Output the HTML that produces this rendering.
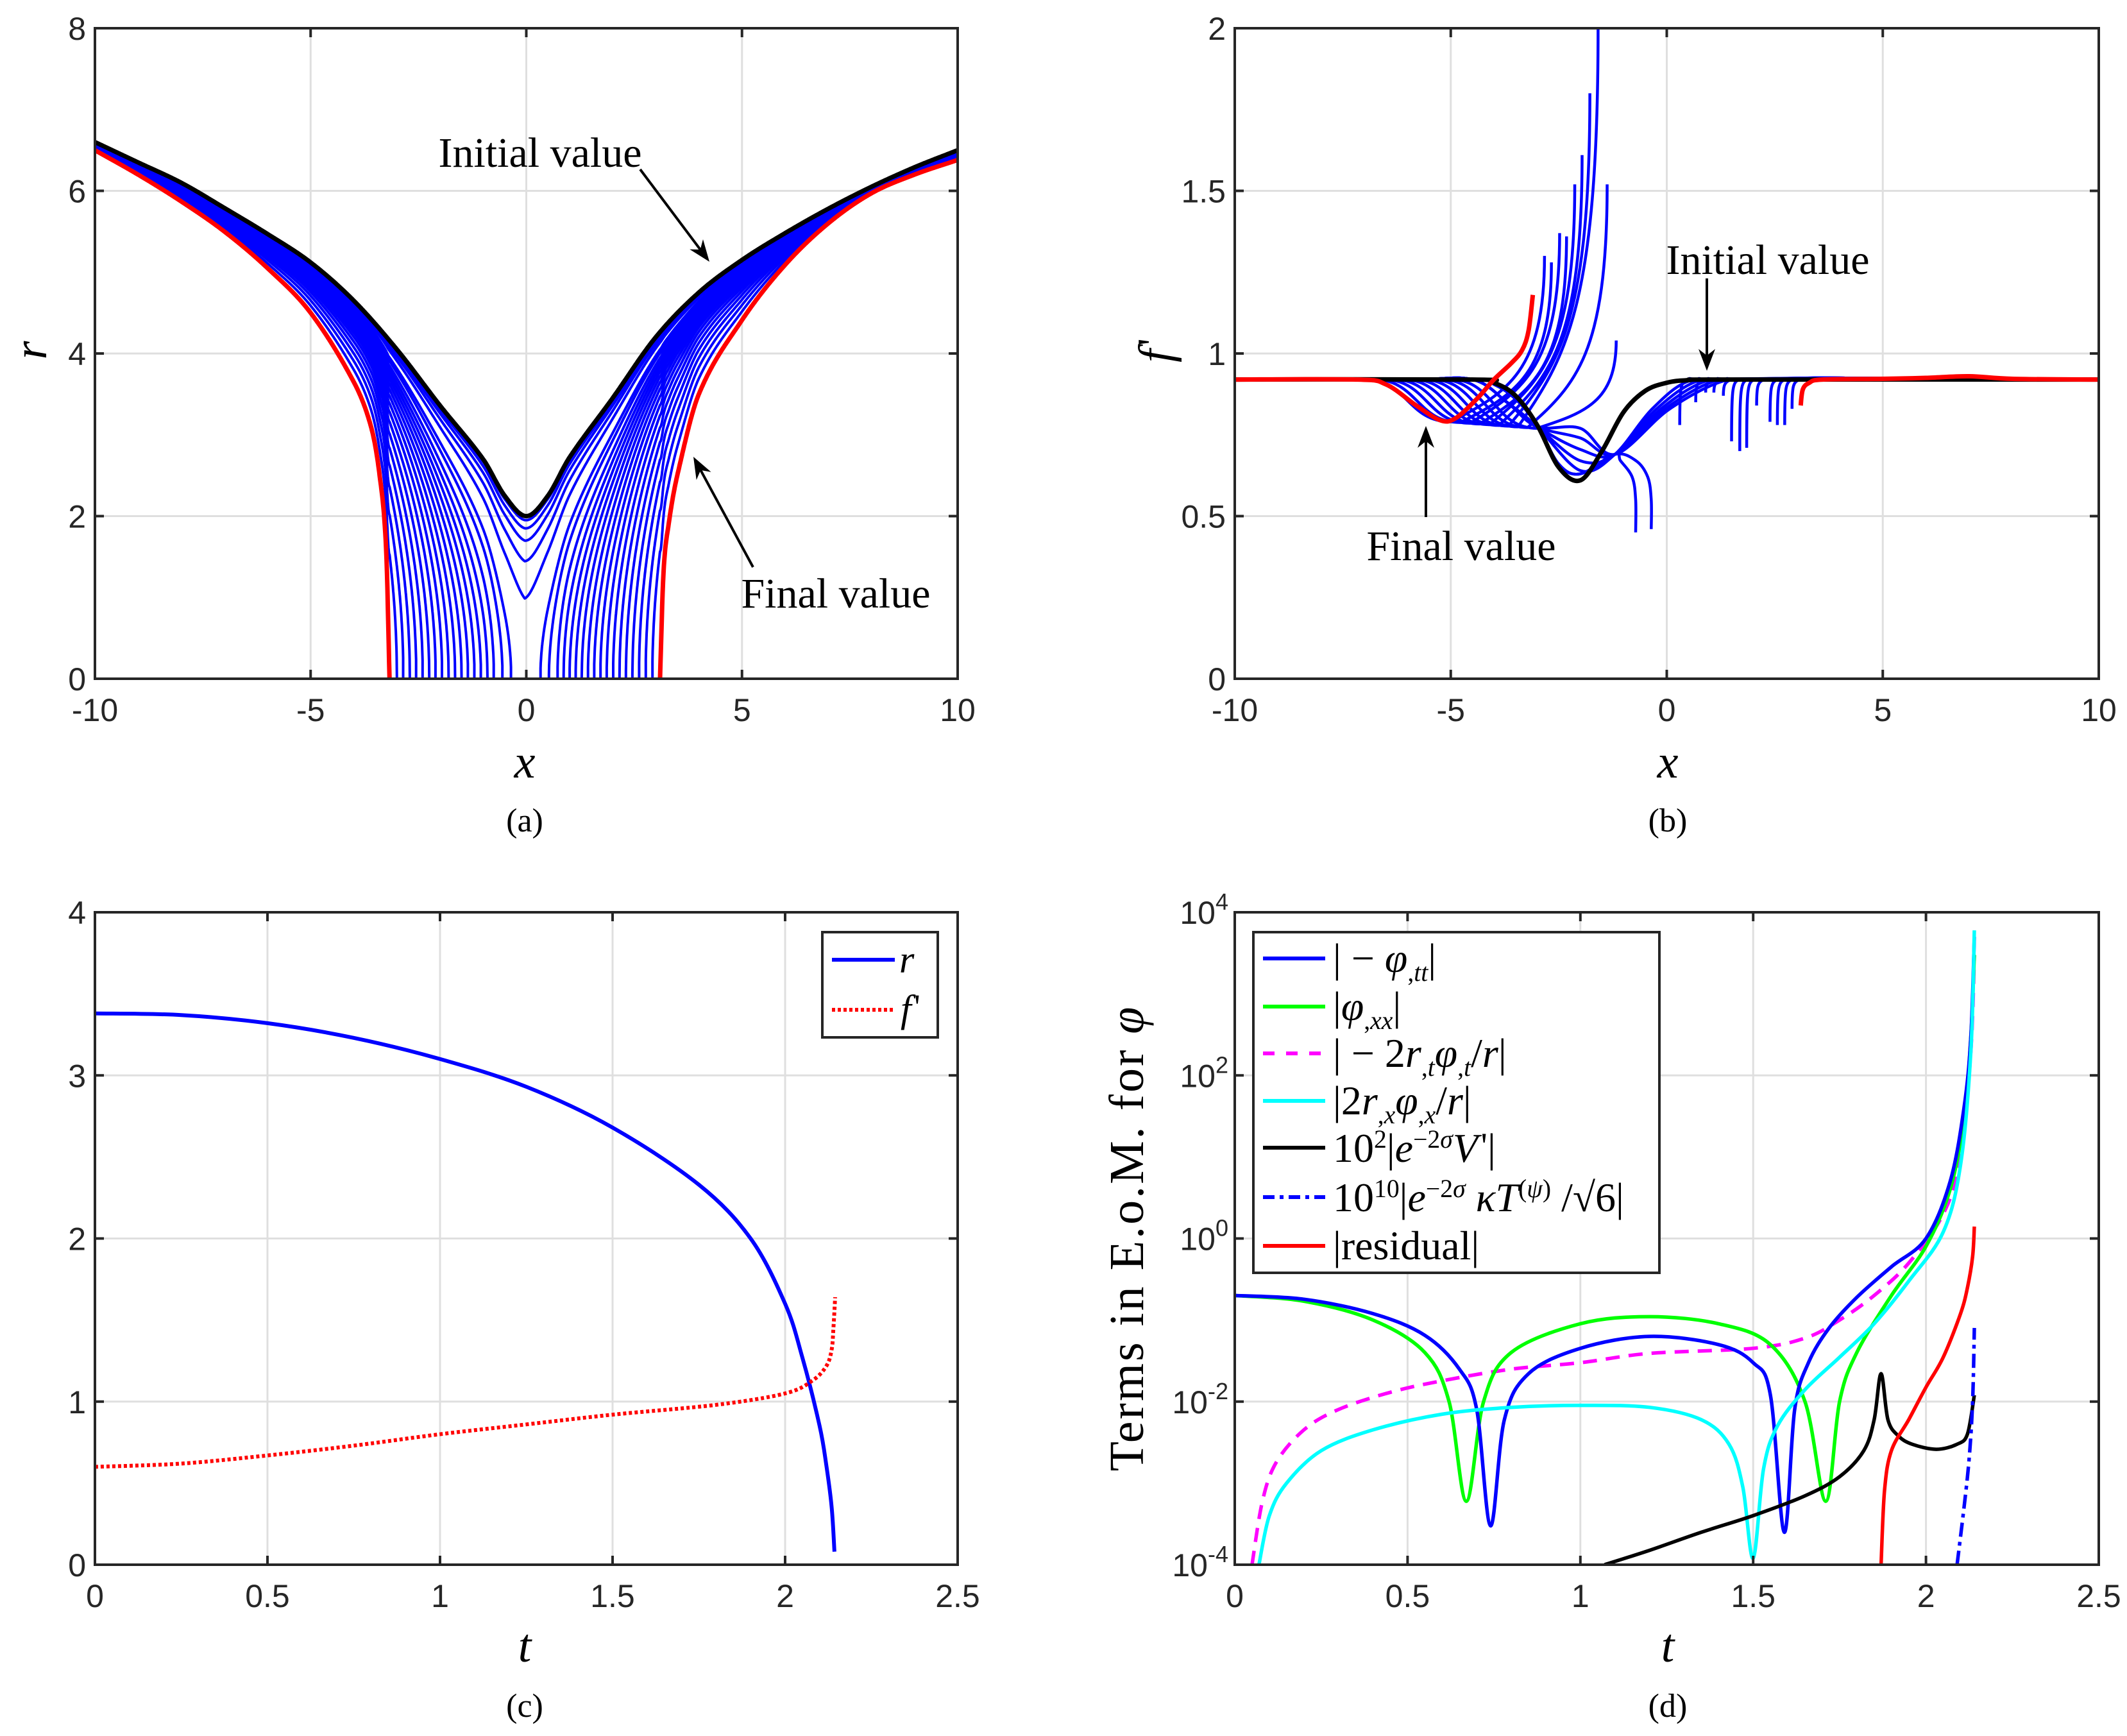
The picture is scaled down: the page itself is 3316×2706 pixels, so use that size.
<!DOCTYPE html>
<html><head><meta charset="utf-8">
<style>
html,body{margin:0;padding:0;background:#fff}
#wrap{position:relative;width:3316px;height:2706px;overflow:hidden;background:#fff}
.m{position:absolute;font-family:"Liberation Serif","DejaVu Serif",serif;color:#000;white-space:nowrap;line-height:1}
.m i{font-style:italic}
.m sub{font-size:62%;vertical-align:-0.35em}
.m sup{font-size:62%;vertical-align:0.55em}
.pr{font-family:"Liberation Serif",serif;font-style:normal;display:inline-block;margin-left:0.08em;font-size:90%;vertical-align:0.1em}
.c{transform:translate(-50%,-50%)}
</style></head>
<body>
<div id="wrap">
<svg id="svg" width="3316" height="2706" xmlns="http://www.w3.org/2000/svg"></svg>

<div class="m c" style="left:818px;top:1188px;font-size:74px"><i>x</i></div>
<div class="m c" style="left:818px;top:1280px;font-size:52px">(a)</div>
<div class="m c" style="left:48px;top:546px;font-size:74px;transform:translate(-50%,-50%) rotate(-90deg)"><i>r</i></div>
<div class="m c" style="left:842px;top:239px;font-size:66px">Initial value</div>
<div class="m c" style="left:1303px;top:926px;font-size:66px">Final value</div>

<div class="m c" style="left:2600px;top:1188px;font-size:74px"><i>x</i></div>
<div class="m c" style="left:2600px;top:1280px;font-size:52px">(b)</div>
<div class="m c" style="left:1802px;top:546px;font-size:74px;transform:translate(-50%,-50%) rotate(-90deg)"><i>f</i><span class="pr">'</span></div>
<div class="m c" style="left:2756px;top:406px;font-size:66px">Initial value</div>
<div class="m c" style="left:2278px;top:852px;font-size:66px">Final value</div>

<div class="m c" style="left:818px;top:2566px;font-size:74px"><i>t</i></div>
<div class="m c" style="left:818px;top:2660px;font-size:52px">(c)</div>

<div class="m c" style="left:2600px;top:2566px;font-size:74px"><i>t</i></div>
<div class="m c" style="left:2600px;top:2660px;font-size:52px">(d)</div>
<div class="m c" style="left:1757px;top:1930px;font-size:76px;letter-spacing:3px;transform:translate(-50%,-50%) rotate(-90deg)">Terms in E.o.M. for <i>φ</i></div>

<div class="m" style="left:1402px;top:1466px;font-size:60px"><i>r</i></div>
<div class="m" style="left:1404px;top:1542px;font-size:60px"><i>f</i><span class="pr">'</span></div>

<div class="m" style="left:2078px;top:1462px;font-size:64px">| − <i>φ</i><sub>,<i>tt</i></sub>|</div>
<div class="m" style="left:2078px;top:1537px;font-size:64px">|<i>φ</i><sub>,<i>xx</i></sub>|</div>
<div class="m" style="left:2078px;top:1610px;font-size:64px">| − 2<i>r</i><sub>,<i>t</i></sub><i>φ</i><sub>,<i>t</i></sub>/<i>r</i>|</div>
<div class="m" style="left:2078px;top:1684px;font-size:64px">|2<i>r</i><sub>,<i>x</i></sub><i>φ</i><sub>,<i>x</i></sub>/<i>r</i>|</div>
<div class="m" style="left:2078px;top:1757px;font-size:64px">10<sup>2</sup>|<i>e</i><sup>−2<i>σ</i></sup><i>V</i><span class="pr">'</span>|</div>
<div class="m" style="left:2078px;top:1834px;font-size:64px">10<sup>10</sup>|<i>e</i><sup>−2<i>σ</i></sup> <i>κT</i><sup>(<i>ψ</i>)</sup> /√6|</div>
<div class="m" style="left:2078px;top:1910px;font-size:64px">|residual|</div>
</div>

<script>
// ---------- panel (a) data ----------
const aX0 = [-10,-9,-8,-7,-6,-5,-4,-3,-2,-1,-0.5,0,0.5,1,2,3,4,5,6,7,8,9,10];
const aR0 = [6.6,6.35,6.1,5.79,5.47,5.12,4.65,4.05,3.36,2.7,2.25,2.0,2.25,2.72,3.45,4.2,4.75,5.15,5.48,5.78,6.05,6.29,6.5];
const aXfL = [-10,-9,-8,-7,-6,-5,-4,-3.6,-3.4,-3.25,-3.17];
const aRfL = [6.5,6.2,5.87,5.5,5.05,4.5,3.65,3.1,2.5,1.6,0];
const aXfR = [3.1,3.18,3.3,3.5,4,5,6,7,8,9,10];
const aRfR = [0,1.3,1.9,2.5,3.5,4.41,5.09,5.6,5.97,6.2,6.38];
const aBlueCross = [-3.0,-2.85,-2.7,-2.55,-2.4,-2.25,-2.1,-1.95,-1.8,-1.65,-1.5,-1.35,-1.2,-1.05,-0.9,-0.75,-0.55,-0.35];
const aBlueMin = [1.95,1.85,1.7,1.45,1.0];
const aXticks = [-10,-5,0,5,10];
const aYticks = [0,2,4,6,8];

// ---------- panel (b) data ----------
const bBlackX = [-10,-4.5,-4,-3.5,-3,-2.5,-2,-1.5,-1,-0.5,0,0.5,1.5,10];
const bBlackY = [0.92,0.92,0.91,0.87,0.78,0.65,0.61,0.70,0.82,0.885,0.91,0.918,0.92,0.92];
const bRedLX = [-10,-7.2,-6.5,-5.8,-5.25,-4.9,-4.4,-4.0,-3.6,-3.35,-3.2,-3.1];
const bRedLY = [0.92,0.92,0.905,0.84,0.795,0.80,0.86,0.92,0.97,1.01,1.07,1.18];
const bRedRX = [3.1,3.15,3.3,3.6,5,6,7,8,10];
const bRedRY = [0.84,0.89,0.91,0.92,0.922,0.925,0.93,0.922,0.92];
const bSpikeX = [-2.83,-2.67,-2.48,-2.32,-2.13,-1.96,-1.78,-1.59,-1.38,-1.17];
const bSpikeY = [1.30,1.28,1.37,1.36,1.52,1.61,1.80,2.0,1.52,1.04];
const bMidMin = [0.64,0.67,0.705,0.74,0.77];
const bMidJoin = [0.5,0.7,0.9,1.1,1.3];
const bDownX = [-0.72,-0.36];
const bDownY = [0.45,0.46];
const bRightX = [0.30,0.67,0.90,1.09,1.31,1.50,1.69,1.85,2.08,2.39,2.56,2.73,2.90];
const bRightY = [0.78,0.85,0.88,0.88,0.87,0.73,0.70,0.71,0.84,0.79,0.78,0.78,0.83];
const bXticks = [-10,-5,0,5,10];
const bYticks = [0,0.5,1,1.5,2];
const bYtickLabels = ['0','0.5','1','1.5','2'];

// ---------- panel (c) data ----------
const cRt = [0,0.25,0.5,0.75,1,1.25,1.5,1.75,1.9,2.0,2.05,2.1,2.12,2.135,2.143];
const cRv = [3.38,3.37,3.32,3.23,3.1,2.93,2.68,2.33,2.0,1.6,1.27,0.85,0.6,0.35,0.08];
const cFt = [0,0.25,0.5,0.75,1,1.25,1.5,1.8,2.0,2.08,2.12,2.135,2.14,2.145];
const cFv = [0.6,0.62,0.67,0.73,0.8,0.86,0.92,0.98,1.05,1.13,1.22,1.32,1.45,1.64];
const cXticks = [0,0.5,1,1.5,2,2.5];
const cYticks = [0,1,2,3,4];

// ---------- panel (d) data ----------
const dTtT = [0,0.2,0.4,0.55,0.65,0.7,0.74,0.78,0.85,1.0,1.2,1.4,1.5,1.55,1.59,1.62,1.66,1.72,1.8,1.9,2.0,2.07,2.11,2.13,2.14];
const dTtV = [0.2,0.18,0.12,0.065,0.025,0.008,3e-4,0.006,0.022,0.045,0.063,0.05,0.03,0.012,2.5e-4,0.008,0.03,0.08,0.19,0.45,1.0,5,40,300,5000];
const dXxT = [0,0.2,0.4,0.55,0.62,0.67,0.72,0.8,1.0,1.2,1.4,1.55,1.65,1.71,1.75,1.8,1.9,2.0,2.07,2.11,2.13,2.14];
const dXxV = [0.2,0.17,0.1,0.04,0.01,6e-4,0.01,0.04,0.09,0.11,0.09,0.05,0.01,6e-4,0.01,0.04,0.2,0.8,4,30,300,3000];
const dMgT = [0.05,0.08,0.12,0.2,0.3,0.45,0.6,0.8,1.0,1.2,1.5,1.65,1.75,1.85,1.95,2.05,2.1,2.13,2.14];
const dMgV = [1e-4,6e-4,1.8e-3,4.5e-3,8e-3,0.013,0.018,0.025,0.03,0.039,0.045,0.06,0.1,0.2,0.5,2,10,200,3000];
const dCyT = [0.07,0.1,0.15,0.25,0.4,0.6,0.8,1.0,1.2,1.35,1.43,1.47,1.5,1.53,1.57,1.65,1.75,1.85,1.95,2.05,2.1,2.13,2.14];
const dCyV = [1e-4,4e-4,1e-3,2.5e-3,4.5e-3,7e-3,8.5e-3,9e-3,8.5e-3,6e-3,3e-3,9e-4,1.2e-4,1.5e-3,5e-3,0.014,0.035,0.09,0.3,1.2,8,200,6000];
const dBkT = [1.07,1.2,1.35,1.5,1.65,1.75,1.82,1.85,1.87,1.89,1.92,1.96,2.03,2.09,2.12,2.14];
const dBkV = [1e-4,1.5e-4,2.5e-4,4e-4,7e-4,1.2e-3,2.5e-3,6e-3,0.022,6e-3,3.8e-3,3e-3,2.6e-3,3e-3,4e-3,0.012];
const dRdT = [1.87,1.88,1.9,1.95,2.0,2.05,2.1,2.12,2.135,2.14];
const dRdV = [1e-4,8e-4,2.5e-3,6e-3,0.015,0.035,0.12,0.25,0.6,1.4];
const dDdT = [2.09,2.11,2.125,2.135,2.14];
const dDdV = [1e-4,5e-4,2e-3,0.01,0.08];
const dXticks = [0,0.5,1,1.5,2,2.5];
const dYexp = [-4,-2,0,2,4];

// ---------- helpers ----------
const NS = 'http://www.w3.org/2000/svg';
const svg = document.getElementById('svg');
function el(tag, attrs, parent){
  const e = document.createElementNS(NS, tag);
  for (const k in attrs) e.setAttribute(k, attrs[k]);
  (parent||svg).appendChild(e);
  return e;
}
const PAN = {
  a:{L:148,R:1493,T:44,B:1058,x0:-10,x1:10,y0:0,y1:8},
  b:{L:1925,R:3272,T:44,B:1058,x0:-10,x1:10,y0:0,y1:2},
  c:{L:148,R:1493,T:1422,B:2439,x0:0,x1:2.5,y0:0,y1:4},
  d:{L:1925,R:3272,T:1422,B:2439,x0:0,x1:2.5,y0:-4,y1:4,log:true}
};
function sx(p,x){return p.L+(x-p.x0)/(p.x1-p.x0)*(p.R-p.L);}
function sy(p,y){const v=p.log?Math.log10(y):y;return p.B-(v-p.y0)/(p.y1-p.y0)*(p.B-p.T);}
function smooth(pts){
  let d='M'+pts[0][0].toFixed(1)+','+pts[0][1].toFixed(1);
  const n=pts.length;
  for(let i=0;i<n-1;i++){
    const p0=pts[Math.max(i-1,0)],p1=pts[i],p2=pts[i+1],p3=pts[Math.min(i+2,n-1)];
    const c1=[p1[0]+(p2[0]-p0[0])/6,p1[1]+(p2[1]-p0[1])/6];
    const c2=[p2[0]-(p3[0]-p1[0])/6,p2[1]-(p3[1]-p1[1])/6];
    d+='C'+c1[0].toFixed(1)+','+c1[1].toFixed(1)+' '+c2[0].toFixed(1)+','+c2[1].toFixed(1)+' '+p2[0].toFixed(1)+','+p2[1].toFixed(1);
  }
  return d;
}
function lin(pts){return 'M'+pts.map(p=>p[0].toFixed(1)+','+p[1].toFixed(1)).join('L');}
function herm(X,Y,x){
  const n=X.length;
  if(x<=X[0])return Y[0]; if(x>=X[n-1])return Y[n-1];
  let i=0; while(X[i+1]<x)i++;
  const h=X[i+1]-X[i], t=(x-X[i])/h;
  const m=j=> j<=0?(Y[1]-Y[0])/(X[1]-X[0]): j>=n-1?(Y[n-1]-Y[n-2])/(X[n-1]-X[n-2]):(Y[j+1]-Y[j-1])/(X[j+1]-X[j-1]);
  const t2=t*t,t3=t2*t;
  return (2*t3-3*t2+1)*Y[i]+(t3-2*t2+t)*h*m(i)+(-2*t3+3*t2)*Y[i+1]+(t3-t2)*h*m(i+1);
}
function clip(id,p){
  const cp=el('clipPath',{id:id});
  el('rect',{x:p.L,y:p.T,width:p.R-p.L,height:p.B-p.T},cp);
}
function axes(key,p,xt,xl,yt,yl,isLog){
  const g=el('g',{});
  
  
  xt.forEach(v=>{const X=sx(p,v);
    const gl=el('line',{x1:X,y1:p.T,x2:X,y2:p.B,stroke:'#dfdfdf','stroke-width':3},g);
    
    
  });
  yt.forEach(v=>{const Y=isLog?p.B-(v-p.y0)/(p.y1-p.y0)*(p.B-p.T):sy(p,v);
    const gl=el('line',{x1:p.L,y1:Y,x2:p.R,y2:Y,stroke:'#dfdfdf','stroke-width':3},g);
    
    
  });
  return g;
}
function frame(key,p,xt,xl,yt,yl,isLog){
  const g=el('g',{});
  
  
  const tl=14;
  xt.forEach((v,i)=>{const X=sx(p,v);
    el('line',{x1:X,y1:p.B,x2:X,y2:p.B-tl,stroke:'#262626','stroke-width':4},g);
    el('line',{x1:X,y1:p.T,x2:X,y2:p.T+tl,stroke:'#262626','stroke-width':4},g);
    const t=el('text',{x:X,y:p.B+66,'text-anchor':'middle','font-family':'Liberation Sans, Arial, sans-serif','font-size':50,fill:'#262626'},g);
    t.textContent=xl[i];
    
    
  });
  yt.forEach((v,i)=>{const Y=isLog?p.B-(v-p.y0)/(p.y1-p.y0)*(p.B-p.T):sy(p,v);
    el('line',{x1:p.L,y1:Y,x2:p.L+tl,y2:Y,stroke:'#262626','stroke-width':4},g);
    el('line',{x1:p.R,y1:Y,x2:p.R-tl,y2:Y,stroke:'#262626','stroke-width':4},g);
    const t=el('text',{x:p.L-14,y:Y+18,'text-anchor':'end','font-family':'Liberation Sans, Arial, sans-serif','font-size':50,fill:'#262626'},g);
    if(isLog){
      t.textContent='10';
      const s=el('tspan',{dy:-22,'font-size':36},t); s.textContent=String(v);
      t.setAttribute('x',p.L-10);
    } else t.textContent=yl[i];
    
    
  });
  el('rect',{x:p.L,y:p.T,width:p.R-p.L,height:p.B-p.T,fill:'none',stroke:'#262626','stroke-width':4},g);
}
function path(d,stroke,w,cl,name,extra){
  const a={d:d,fill:'none',stroke:stroke,'stroke-width':w,'stroke-linejoin':'round','clip-path':'url(#'+cl+')'};
  if(extra)for(const k in extra)a[k]=extra[k];
  const e=el('path',a);
  
  
  return e;
}
function arrow(x1,y1,x2,y2,name){
  const g=el('g',{});
  
  
  const dx=x2-x1,dy=y2-y1,L=Math.hypot(dx,dy),ux=dx/L,uy=dy/L;
  const hl=34,hw=13;
  el('line',{x1:x1,y1:y1,x2:x2-ux*hl*0.7,y2:y2-uy*hl*0.7,stroke:'#000','stroke-width':4},g);
  const bx=x2-ux*hl,by=y2-uy*hl;
  const nx=x2-ux*hl*0.7,ny=y2-uy*hl*0.7;
  el('path',{d:`M${x2},${y2}L${bx-uy*hw},${by+ux*hw}L${nx},${ny}L${bx+uy*hw},${by-ux*hw}Z`,fill:'#000'},g);
}

// ---------- panel (a) ----------
(function(){
  const p=PAN.a; clip('ca',p);
  axes('a',p,aXticks,null,aYticks,null,false);
  const r0=x=>herm(aX0,aR0,x);
  const K=15;
  const g=x=>{
    if(x<=-3.17){const v=herm(aXfL,aRfL,x);return v*v;}
    if(x>=3.1){const v=herm(aXfR,aRfR,x);return v*v;}
    return -K*Math.min(x+3.17,3.1-x);
  };
  const sList=[];
  aBlueMin.forEach(m=>sList.push((4-m*m)/(4+K*3.1)));
  aBlueCross.forEach(xc=>{const q=r0(xc)**2;sList.push(q/(q+K*(xc+3.17)));});
  sList.forEach(s=>{
    let segs=[],cur=[],prevIn=true;
    for(let i=0;i<=4000;i++){
      const x=-10+i*0.005;
      const v=(1-s)*r0(x)**2+s*g(x);
      if(v>=0){
        if(!prevIn&&cur.length===0)cur.push([sx(p,x),sy(p,0)]);
        cur.push([sx(p,x),sy(p,Math.sqrt(v))]);prevIn=true;
      } else {
        if(cur.length){cur.push([cur[cur.length-1][0],sy(p,0)]);segs.push(cur);cur=[];}
        prevIn=false;
      }
    }
    if(cur.length)segs.push(cur);
    path(segs.map(lin).join(''),'#0000ff',4,'ca','r-blue-curve');
  });
  const L=[],R=[];
  for(let x=-10;x<=-3.17;x+=0.01)L.push([sx(p,x),sy(p,Math.max(0,herm(aXfL,aRfL,x)))]);
  L.push([sx(p,-3.17),sy(p,0)]);
  R.push([sx(p,3.1),sy(p,0)]);
  for(let x=3.1;x<=10.001;x+=0.01)R.push([sx(p,x),sy(p,Math.max(0,herm(aXfR,aRfR,x)))]);
  path(lin(L)+lin(R),'#ff0000',7,'ca','r-final-curve');
  const B=[];
  for(let x=-10;x<=10.001;x+=0.02)B.push([sx(p,x),sy(p,r0(x))]);
  path(lin(B),'#000000',7,'ca','r-initial-curve');
  frame('a',p,aXticks,aXticks.map(String),aYticks,aYticks.map(String),false);
  arrow(998,264,1106,408,'arrow-initial-a');
  arrow(1174,884,1081,712,'arrow-final-a');
})();

// ---------- panel (b) ----------
(function(){
  const p=PAN.b; clip('cb',p);
  axes('b',p,bXticks,null,bYticks,null,false);
  const P=(x,y)=>[sx(p,x),sy(p,y)];
  const n=bSpikeX.length;
  bSpikeX.forEach((xe,i)=>{
    const ye=bSpikeY[i];
    const f=i/(n-1);
    const xm=-5.0+f*2.0, ym=0.79-0.02*f, xa=xm-2.0;
    const a=P(-10,0.92),b=P(xa,0.92),m=P(xm,ym),e=P(xe,ye);
    const d1=(xm-xa)*0.5;
    const c1=P(xa+d1,0.92),c2=P(xm-d1,ym);
    const c3=P(xm+0.6*(xe-xm),ym+0.35*(ye-ym)*0.5),c4=P(xe,ym+0.5*(ye-ym)*0.6);
    const d=`M${a}L${b}C${c1} ${c2} ${m}C${c3} ${c4} ${e}`;
    path(d,'#0000ff',4.5,'cb','fprime-blue-spike');
  });
  bMidMin.forEach((ym,i)=>{
    const xj=bMidJoin[i];
    const pts=[[-10,0.92],[-6,0.92],[-4.5,0.92],[-3.7,0.85],[-3,0.775],[-2,ym],[-1.2,0.69],[(-1.2+xj)/2,0.69+0.6*0.23],[xj,0.915],[xj+1,0.92],[10,0.92]];
    path(smooth(pts.map(q=>P(q[0],q[1]))),'#0000ff',4.5,'cb','fprime-blue-mid');
  });
  bDownX.forEach((xe,i)=>{
    const ye=bDownY[i];
    const pts=[[-10,0.92],[-4.5,0.92],[-4,0.905],[-3.5,0.86],[-3,0.78],[-2.5,0.66],[-2,0.63],[-1.2,0.69],[xe-0.35,0.67],[xe-0.08,0.62],[xe,0.55],[xe,ye]];
    path(smooth(pts.map(q=>P(q[0],q[1]))),'#0000ff',4.5,'cb','fprime-blue-down');
  });
  bRightX.forEach((xr,i)=>{
    const yr=bRightY[i];
    const s=P(xr,yr),c1=P(xr,0.9),c2=P(xr+0.02,0.915),e=P(xr+0.2,0.92);
    const e2=P(3.5,0.925),e3=P(10,0.92);
    path(`M${s}C${c1} ${c2} ${e}L${e2}L${e3}`,'#0000ff',4.5,'cb','fprime-blue-right');
  });
  path(smooth(bBlackX.map((x,i)=>P(x,bBlackY[i]))),'#000',7,'cb','fprime-initial-curve');
  path(smooth(bRedLX.map((x,i)=>P(x,bRedLY[i])))+smooth(bRedRX.map((x,i)=>P(x,bRedRY[i]))),'#ff0000',7,'cb','fprime-final-curve');
  frame('b',p,bXticks,bXticks.map(String),bYticks,bYtickLabels,false);
  arrow(2661,434,2661,578,'arrow-initial-b');
  arrow(2223,806,2223,664,'arrow-final-b');
})();

// ---------- panel (c) ----------
(function(){
  const p=PAN.c; clip('cc',p);
  axes('c',p,cXticks,null,cYticks,null,false);
  path(smooth(cRt.map((t,i)=>[sx(p,t),sy(p,cRv[i])])),'#0000ff',6,'cc','r-vs-t-line');
  path(smooth(cFt.map((t,i)=>[sx(p,t),sy(p,cFv[i])])),'#ff0000',6,'cc','fprime-vs-t-line',{'stroke-dasharray':'5 4','stroke-linejoin':'miter'});
  frame('c',p,cXticks,cXticks.map(String),cYticks,cYticks.map(String),false);
  const lg=el('g',{});  
  el('rect',{x:1282,y:1453,width:180,height:164,fill:'#fff',stroke:'#262626','stroke-width':4},lg);
  el('line',{x1:1297,y1:1496,x2:1395,y2:1496,stroke:'#0000ff','stroke-width':6},lg);
  el('line',{x1:1297,y1:1574,x2:1395,y2:1574,stroke:'#ff0000','stroke-width':6,'stroke-dasharray':'5 4'},lg);
})();

// ---------- panel (d) ----------
(function(){
  const p=PAN.d; clip('cd',p);
  axes('d',p,dXticks,null,dYexp,null,true);
  const pp=(T,V)=>T.map((t,i)=>[sx(p,t),sy(p,V[i])]);
  path(smooth(pp(dMgT,dMgV)),'#ff00ff',5.5,'cd','mag-dashed-line',{'stroke-dasharray':'22 14'});
  path(smooth(pp(dXxT,dXxV)),'#00ff00',5.5,'cd','phi-xx-line');
  path(smooth(pp(dTtT,dTtV)),'#0000ff',5.5,'cd','phi-tt-line');
  path(smooth(pp(dCyT,dCyV)),'#00ffff',5.5,'cd','rx-phix-line');
  path(smooth(pp(dBkT,dBkV)),'#000000',5.5,'cd','potential-line');
  path(smooth(pp(dDdT,dDdV)),'#0000ff',5.5,'cd','stress-dashdot-line',{'stroke-dasharray':'22 8 6 8'});
  path(smooth(pp(dRdT,dRdV)),'#ff0000',5.5,'cd','residual-line');
  frame('d',p,dXticks,dXticks.map(String),dYexp,null,true);
  const lg=el('g',{});  
  el('rect',{x:1954,y:1453,width:633,height:531,fill:'#fff',stroke:'#262626','stroke-width':4},lg);
  const ly=[1494,1569,1642,1716,1789,1866,1942];
  const lc=['#0000ff','#00ff00','#ff00ff','#00ffff','#000000','#0000ff','#ff0000'];
  const ld=['none','none','18 18','none','none','18 8 6 8','none'];
  ly.forEach((y,i)=>{
    const ln=el('line',{x1:1969,y1:y,x2:2066,y2:y,stroke:lc[i],'stroke-width':6,'stroke-dasharray':ld[i]},lg);
    
    
  });
})();
</script>
</body></html>
